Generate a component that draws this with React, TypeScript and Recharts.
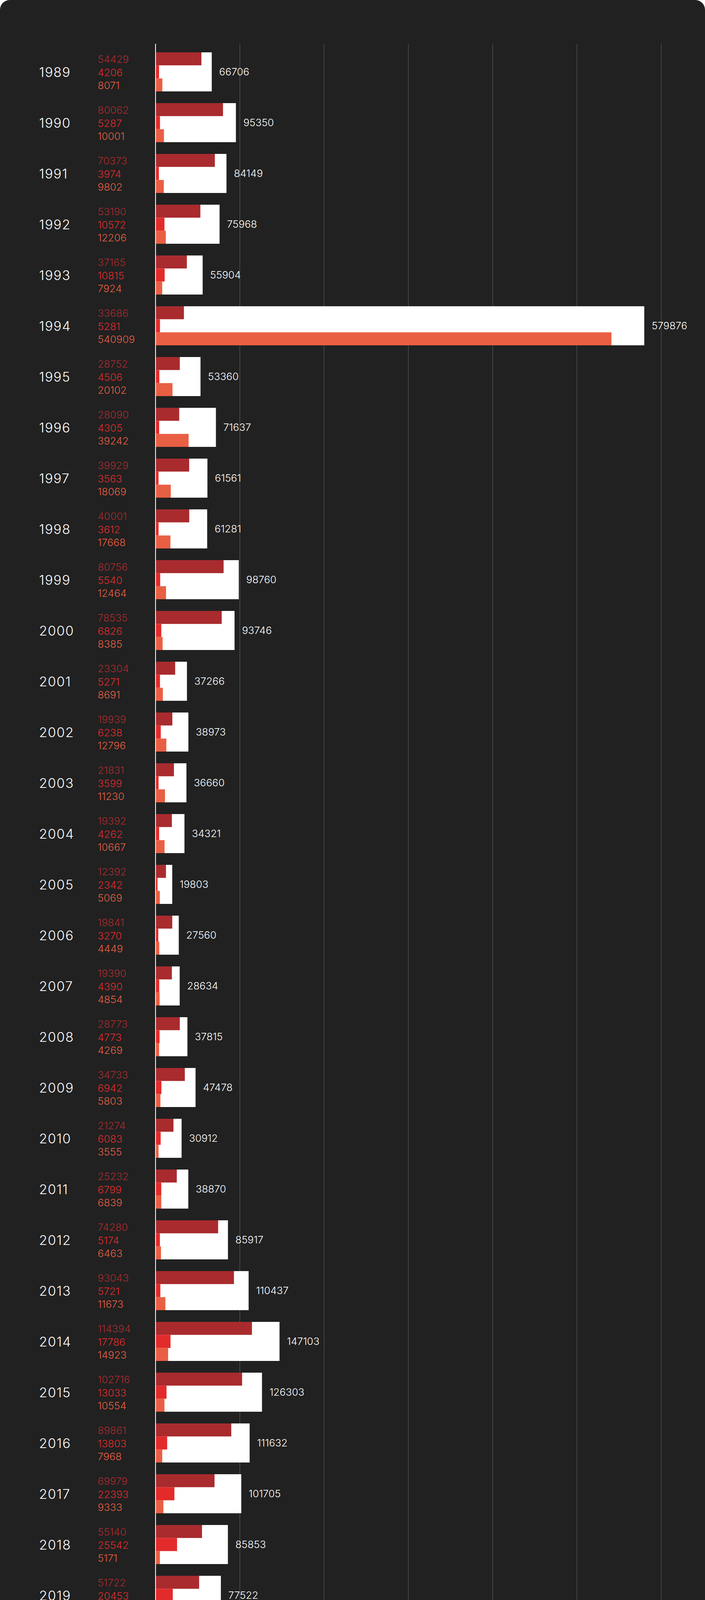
import React from 'react';
import { BarChart, Bar, XAxis, YAxis, CartesianGrid, LabelList } from 'recharts';

const years = ['1989','1990','1991','1992','1993','1994','1995','1996','1997','1998','1999','2000','2001','2002','2003','2004','2005','2006','2007','2008','2009','2010','2011','2012','2013','2014','2015','2016','2017','2018','2019','2020'];
const stateBased = [54429,80062,70373,53190,37165,33686,28752,28090,39929,40001,80756,78535,23304,19939,21831,19392,12392,19841,19390,28773,34733,21274,25232,74280,93043,114394,102716,89861,69979,55140,51722,49828];
const nonState = [4206,5287,3974,10572,10815,5281,4506,4305,3563,3612,5540,6826,5271,6238,3599,4262,2342,3270,4390,4773,6942,6083,6799,5174,5721,17786,13033,13803,22393,25542,20453,23570];
const oneSided = [8071,10001,9802,12206,7924,540909,20102,39242,18069,17668,12464,8385,8691,12796,11230,10667,5069,4449,4854,4269,5803,3555,6839,6463,11673,14923,10554,7968,9333,5171,5347,8049];
const totals = [66706,95350,84149,75968,55904,579876,53360,71637,61561,61281,98760,93746,37266,38973,36660,34321,19803,27560,28634,37815,47478,30912,38870,85917,110437,147103,126303,111632,101705,85853,77522,81447];
const xTicks = [0,100000,200000,300000,400000,500000,600000];

const summaryValues = ['1572032','269931','862546','2704509'];
const summaryLabels = [
  ['Конфликты с участием', 'государств*'],
  ['Негосударственные', 'вооруженные конфликты**'],
  ['Одностороннее насилие против', 'гражданского населения***'],
  ['Всего'],
];
const footnotes = [
  ['* Конфликт с участием государства – вооруженный конфликт, хотя бы одной из сторон', 'которого является правительство государства, повлекший гибель не менее 25 человек в', 'год в ходе боевых действий'],
  ['** Негосударственный вооруженный конфликт – конфликт между вооруженными', 'группировками, ни одна из которых не является правительством государства, повлекший', 'гибель не менее 25 человек в год в ходе боевых действий'],
  ['*** Одностороннее насилие против гражданского населения – преднамеренное', 'применение вооруженной силы со стороны правительства государства либо', 'вооруженной группировки против гражданского населения, повлекшее гибель не менее', '25 человек в год'],
];
const totalLabel = 'Всего';
const sourceText = 'ИСТОЧНИК: Уппсальский университет, 2022';

const data = years.map((y, i) => ({
  year: y,
  stateBased: stateBased[i],
  nonState: nonState[i],
  oneSided: oneSided[i],
  total: totals[i],
}));

const BG = '#212121';
const DARK = '#a92b2e';
const RED = '#e32b2b';
const ORANGE = '#e95f43';
const FONT = "Inter, 'Noto Sans', sans-serif";
const seriesColors = [DARK, RED, ORANGE];

const YearTick = (props: any) => {
  const { y, payload } = props;
  const i = years.indexOf(String(payload.value));
  const vals = [stateBased[i], nonState[i], oneSided[i]];
  return (
    <g>
      <text x={100} y={y + 13} fill="#fff" fontSize={34} fontWeight={300} fontFamily={FONT} letterSpacing={1.5}>{payload.value}</text>
      {vals.map((v, k) => (
        <text key={k} x={250} y={y + (k - 1) * 33.5 + 10.5} fill={seriesColors[k]} fontSize={26} fontWeight={300} fontFamily={FONT}>{v}</text>
      ))}
    </g>
  );
};

const XTick = (props: any) => {
  const { x, y, payload } = props;
  return (
    <text x={x + 2} y={y + 53} textAnchor="middle" fill="#fff" fontSize={31} fontWeight={300} fontFamily={FONT} letterSpacing={4}>{payload.value}</text>
  );
};

export default function App() {
  const bigY = [4642, 4642, 4885, 4885];
  const bigX = [153, 941, 153, 941];
  const bigColors = [DARK, RED, ORANGE, '#ffffff'];
  const labelBase = [4697, 4697, 4948, 4948];
  const footBase = [5130, 5273, 5417];
  return (
    <div style={{ position: 'absolute', left: 0, top: 0, width: 1804, height: 5840, background: BG, borderRadius: 25, overflow: 'hidden', fontFamily: FONT }}>
      <div style={{ position: 'absolute', left: 0, top: 0 }}>
        <BarChart width={1804} height={4400} data={data} layout="vertical" barGap={0} margin={{ top: 112, right: 112, bottom: 0, left: 0 }}>
          <CartesianGrid horizontal={false} vertical={true} stroke="#4f4f4f" strokeWidth={1.5} yAxisId="parts" />
          <XAxis type="number" domain={[0, 600000]} ticks={xTicks} height={103} tickSize={0} tickMargin={0} tickLine={false} axisLine={{ stroke: '#ffffff', strokeWidth: 2 }} tick={<XTick />} interval={0} />
          <YAxis yAxisId="parts" type="category" dataKey="year" width={398} padding={{ top: 7, bottom: 18 }} tickLine={false} tickSize={0} axisLine={{ stroke: '#ffffff', strokeWidth: 2 }} tick={<YearTick />} interval={0} />
          <YAxis yAxisId="total" type="category" dataKey="year" hide padding={{ top: 7, bottom: 18 }} />
          <Bar yAxisId="total" dataKey="total" fill="#ffffff" barSize={100} isAnimationActive={false}>
            <LabelList dataKey="total" position="right" offset={19} fill="#ffffff" fontSize={26} fontWeight={300} fontFamily={FONT} />
          </Bar>
          <Bar yAxisId="parts" dataKey="stateBased" fill={DARK} barSize={33.34} isAnimationActive={false} />
          <Bar yAxisId="parts" dataKey="nonState" fill={RED} barSize={33.34} isAnimationActive={false} />
          <Bar yAxisId="parts" dataKey="oneSided" fill={ORANGE} barSize={33.34} isAnimationActive={false} />
        </BarChart>
      </div>
      <svg width={1804} height={5840} style={{ position: 'absolute', left: 0, top: 0, pointerEvents: 'none' }}>
        <text x={100} y={4433} fill="#fff" fontSize={32} fontWeight={300} fontFamily={FONT} letterSpacing={1}>{totalLabel}</text>
        <rect x={101} y={4493} width={1599} height={557} rx={26} ry={26} fill="none" stroke="#e6e6e6" strokeWidth={2.5} />
        {summaryValues.map((v, i) => (
          <text key={'b' + i} x={bigX[i]} y={bigY[i]} fill={bigColors[i]} fontSize={136} fontWeight={900} fontFamily={FONT} letterSpacing={2}>{v}</text>
        ))}
        {summaryLabels.map((lines, i) => (
          <text key={'l' + i} fill="#fff" fontSize={37} fontWeight={300} fontFamily={FONT} letterSpacing={1.2}>
            {lines.map((ln, k) => (
              <tspan key={k} x={bigX[i] - 1} y={labelBase[i] + k * 38.5}>{ln}</tspan>
            ))}
          </text>
        ))}
        {footnotes.map((lines, i) => (
          <text key={'f' + i} fill="#fff" fontSize={33} fontWeight={300} fontFamily={FONT} letterSpacing={1.1}>
            {lines.map((ln, k) => (
              <tspan key={k} x={152} y={footBase[i] + k * 36}>{ln}</tspan>
            ))}
          </text>
        ))}
        <text x={101} y={5612} fill="#fff" fontSize={33} fontWeight={300} fontFamily={FONT} letterSpacing={1.1}>{sourceText}</text>
        <g>
          <circle cx={864.5} cy={5740} r={38} fill="#fff" />
          <rect x={847} y={5735} width={35} height={10} fill={BG} />
          <rect x={859.5} y={5722} width={10.5} height={36} fill={BG} />
          <rect x={903} y={5705} width={70} height={70} fill="#fff" />
          <text x={938.5} y={5760} textAnchor="middle" fill={BG} fontSize={58} fontWeight={900} fontFamily={FONT}>1</text>
        </g>
      </svg>
    </div>
  );
}
